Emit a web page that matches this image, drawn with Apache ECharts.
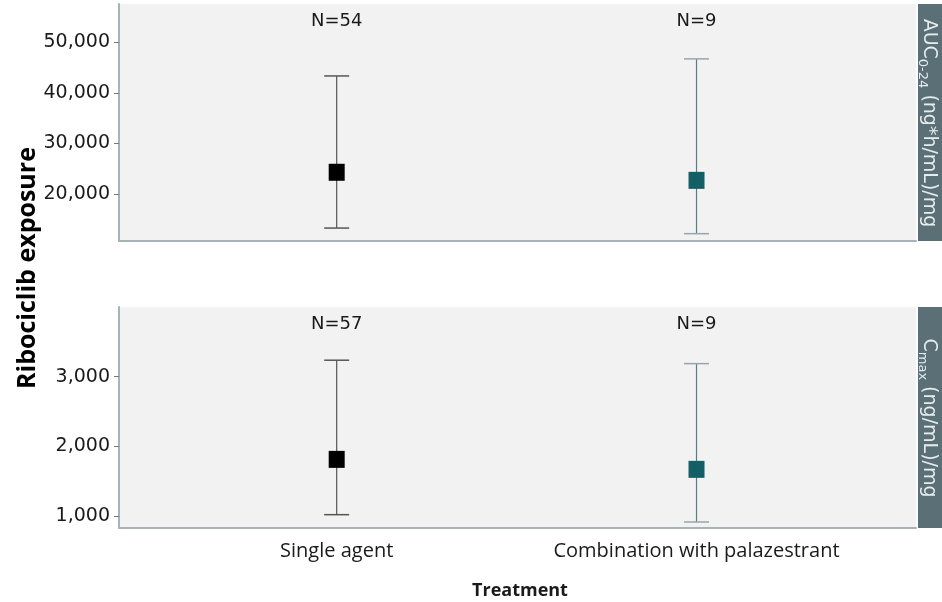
<!DOCTYPE html>
<html>
<head>
<meta charset="utf-8">
<script src="https://cdn.jsdelivr.net/npm/echarts@6/dist/echarts.min.js"></script>
<style>html,body{margin:0;padding:0;background:#fff}#c{width:942px;height:602px}</style>
</head>
<body>
<div id="c"></div>
<script>
// ---- data ----
const categories = ['Single agent', 'Combination with palazestrant'];
const nAUC = ['N=54', 'N=9'];
const nCmax = ['N=57', 'N=9'];
// AUC0-24 (ng*h/mL)/mg : [low, point, high]
const aucLow = [13260, 12150];
const aucMid = [24300, 22700];
const aucHigh = [43360, 46740];
// Cmax (ng/mL)/mg
const cmaxLow = [1022, 917];
const cmaxMid = [1815, 1672];
const cmaxHigh = [3237, 3188];
const aucTicks = [20000, 30000, 40000, 50000];
const cmaxTicks = [1000, 2000, 3000];

const markerColors = ['#000000', '#135f66'];
const whiskerColors = ['#555555', '#62787f'];
const capColors = ['#555555', '#98a6ab'];

const chart = echarts.init(document.getElementById('c'));
const fmt = v => Number(v).toLocaleString('en-US');

function rows(low, mid, high, ns) {
  return categories.map((c, i) => [i + 1, low[i], mid[i], high[i], ns[i], i]);
}

function errRender(params, api) {
  const x = api.value(0);
  const lo = api.coord([x, api.value(1)]);
  const hi = api.coord([x, api.value(3)]);
  const idx = api.value(5);
  const cap = 12.5;
  const wc = whiskerColors[idx], cc = capColors[idx];
  const label = api.value(4);
  return {
    type: 'group',
    children: [
      {type: 'line', shape: {x1: lo[0], y1: lo[1], x2: hi[0], y2: hi[1]}, style: {stroke: wc, lineWidth: 1.2}},
      {type: 'line', shape: {x1: hi[0] - cap, y1: hi[1], x2: hi[0] + cap, y2: hi[1]}, style: {stroke: cc, lineWidth: 1.5}},
      {type: 'line', shape: {x1: lo[0] - cap, y1: lo[1], x2: lo[0] + cap, y2: lo[1]}, style: {stroke: cc, lineWidth: 1.5}},
      {type: 'text', x: hi[0], y: params.coordSys.y + 17,
        style: {text: label, align: 'center', verticalAlign: 'middle', fontFamily: 'DejaVu Sans', fontSize: 18, fill: '#1a1a1a'}}
    ]
  };
}

const axisLineStyle = {color: '#a8b3b7', width: 2};
const xBase = {
  type: 'value', min: 0.395, max: 2.61,
  splitLine: {show: false}, axisTick: {show: false},
  axisLine: {show: true, onZero: false, lineStyle: axisLineStyle}
};
const yBase = {
  type: 'value', splitLine: {show: false},
  axisLine: {show: true, lineStyle: axisLineStyle}
};
const yLabel = {fontFamily: 'DejaVu Sans', fontSize: 19, color: '#1a1a1a', margin: 9};

const option = {
  animation: false,
  backgroundColor: '#ffffff',
  grid: [
    {left: 119, top: 4, width: 797, height: 237, show: true, backgroundColor: '#f2f2f2', borderWidth: 0},
    {left: 119, top: 307, width: 797, height: 221, show: true, backgroundColor: '#f2f2f2', borderWidth: 0}
  ],
  xAxis: [
    Object.assign({}, xBase, {gridIndex: 0, axisLabel: {show: false}}),
    Object.assign({}, xBase, {gridIndex: 1,
      axisLabel: {show: true, customValues: [1, 2], formatter: v => categories[Math.round(v) - 1] || '',
        fontFamily: 'Open Sans', fontSize: 20, color: '#1a1a1a', margin: 13}})
  ],
  yAxis: [
    Object.assign({}, yBase, {gridIndex: 0, min: 10700, max: 57600,
      axisTick: {show: true, length: 5, customValues: aucTicks, lineStyle: {color: '#777'}},
      axisLabel: Object.assign({customValues: aucTicks, formatter: fmt}, yLabel)}),
    Object.assign({}, yBase, {gridIndex: 1, min: 831, max: 4000,
      axisTick: {show: true, length: 5, customValues: cmaxTicks, lineStyle: {color: '#777'}},
      axisLabel: Object.assign({customValues: cmaxTicks, formatter: fmt}, yLabel)})
  ],
  series: [
    {type: 'custom', xAxisIndex: 0, yAxisIndex: 0, renderItem: errRender,
      data: rows(aucLow, aucMid, aucHigh, nAUC), z: 2},
    {type: 'custom', xAxisIndex: 1, yAxisIndex: 1, renderItem: errRender,
      data: rows(cmaxLow, cmaxMid, cmaxHigh, nCmax), z: 2},
    {type: 'scatter', xAxisIndex: 0, yAxisIndex: 0, symbol: 'rect', symbolSize: [16, 17], z: 5,
      data: categories.map((c, i) => ({value: [i + 1, aucMid[i]], itemStyle: {color: markerColors[i], opacity: 1}}))},
    {type: 'scatter', xAxisIndex: 1, yAxisIndex: 1, symbol: 'rect', symbolSize: [16, 17], z: 5,
      data: categories.map((c, i) => ({value: [i + 1, cmaxMid[i]], itemStyle: {color: markerColors[i], opacity: 1}}))}
  ],
  graphic: [
    {type: 'rect', shape: {x: 918, y: 4, width: 24, height: 237}, style: {fill: '#5b6f77'}},
    {type: 'rect', shape: {x: 918, y: 307, width: 24, height: 221}, style: {fill: '#5b6f77'}},
    {type: 'text', x: 930, y: 123, rotation: -Math.PI / 2,
      style: {text: '{a|AUC}{b|0-24}{a| (ng*h/mL)/mg}', align: 'center', verticalAlign: 'middle',
        rich: {
          a: {fontFamily: 'DejaVu Sans', fontSize: 19, fill: '#e6eced', lineHeight: 22, verticalAlign: 'bottom'},
          b: {fontFamily: 'DejaVu Sans', fontSize: 13, fill: '#e6eced', lineHeight: 22, verticalAlign: 'bottom', padding: [0, 0, -3, 0]}
        }}},
    {type: 'text', x: 930, y: 418, rotation: -Math.PI / 2,
      style: {text: '{a|C}{b|max}{a| (ng/mL)/mg}', align: 'center', verticalAlign: 'middle',
        rich: {
          a: {fontFamily: 'DejaVu Sans', fontSize: 19, fill: '#e6eced', lineHeight: 22, verticalAlign: 'bottom'},
          b: {fontFamily: 'DejaVu Sans', fontSize: 13, fill: '#e6eced', lineHeight: 22, verticalAlign: 'bottom', padding: [0, 0, -3, 0]}
        }}},
    {type: 'text', x: 28, y: 268, rotation: Math.PI / 2,
      style: {text: 'Ribociclib exposure', align: 'center', verticalAlign: 'middle',
        fontFamily: 'Open Sans', fontWeight: 'bold', fontSize: 25, fill: '#000'}},
    {type: 'text', x: 520, y: 591,
      style: {text: 'Treatment', align: 'center', verticalAlign: 'middle',
        fontFamily: 'Open Sans', fontWeight: 'bold', fontSize: 18, fill: '#1a1a1a'}}
  ]
};
chart.setOption(option);
</script>
</body>
</html>
